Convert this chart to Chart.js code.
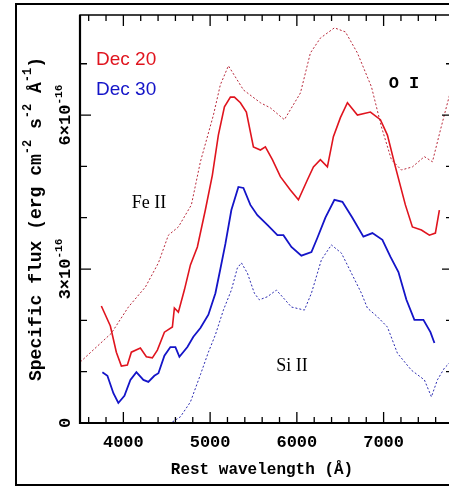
<!DOCTYPE html>
<html>
<head>
<meta charset="utf-8">
<script src="https://cdn.jsdelivr.net/npm/chart.js@4.4.1/dist/chart.umd.min.js"></script>
<style>
  html, body { margin: 0; padding: 0; background: #fff; overflow: hidden; }
  #wrap { width: 460px; height: 487px; }
</style>
</head>
<body>
<div id="wrap"><canvas id="spec" width="460" height="487"></canvas></div>
<script>
// flux in units of 1e-16 erg cm^-2 s^-2 A^-1, wavelength in A
const dec20Wave = [3746,3850,3919,3977,4046,4092,4196,4265,4334,4392,4473,4565,4588,4634,4703,4773,4853,4945,5026,5095,5165,5234,5280,5349,5418,5499,5580,5637,5718,5810,5925,6018,6122,6191,6271,6352,6421,6502,6583,6698,6848,6963,7044,7136,7251,7332,7436,7528,7597,7643];
const dec20Flux = [2.28,1.89,1.38,1.11,1.13,1.38,1.46,1.29,1.27,1.42,1.77,1.87,2.24,2.16,2.59,3.08,3.43,4.15,4.83,5.61,6.16,6.35,6.35,6.24,6.06,5.38,5.32,5.38,5.13,4.80,4.54,4.35,4.74,4.99,5.13,4.99,5.58,5.95,6.24,6.00,6.06,5.91,5.61,4.99,4.25,3.82,3.76,3.66,3.70,4.15];

const dec20DotWave = [3504,3862,4058,4254,4404,4519,4634,4784,4888,5038,5118,5211,5384,5580,5695,5856,6041,6156,6271,6433,6560,6698,6860,6975,7090,7205,7332,7470,7563,7655,7760];
const dec20DotFlux = [1.19,1.75,2.26,2.65,3.12,3.66,3.82,4.25,5.09,6.00,6.59,6.96,6.49,6.24,6.14,5.91,6.43,7.21,7.50,7.70,7.62,7.21,6.55,5.77,5.13,4.93,4.99,5.19,5.09,5.71,6.39];

const dec30Wave = [3758,3816,3885,3942,4012,4081,4150,4231,4288,4357,4404,4473,4542,4600,4646,4738,4807,4888,4980,5061,5118,5176,5245,5326,5384,5464,5545,5660,5776,5845,5937,6052,6168,6237,6329,6433,6525,6640,6767,6871,6986,7078,7171,7263,7355,7459,7540,7586];
const dec30Flux = [0.99,0.92,0.58,0.39,0.53,0.84,0.99,0.84,0.80,0.92,0.97,1.31,1.48,1.48,1.29,1.48,1.68,1.85,2.11,2.53,3.00,3.49,4.15,4.60,4.58,4.25,4.05,3.86,3.66,3.66,3.43,3.26,3.33,3.61,4.00,4.35,4.31,4.00,3.63,3.70,3.57,3.24,2.94,2.40,2.01,2.01,1.77,1.56];

const dec30DotWave = [4565,4657,4773,4888,4980,5061,5153,5245,5314,5361,5430,5510,5568,5660,5764,5833,5937,6087,6168,6283,6398,6514,6629,6744,6813,6929,7044,7159,7320,7470,7551,7620,7701,7760];
const dec30DotFlux = [0.02,0.12,0.41,0.94,1.38,1.72,2.20,2.59,3.02,3.12,2.92,2.53,2.40,2.46,2.59,2.46,2.26,2.20,2.53,3.18,3.47,3.31,2.92,2.53,2.24,2.07,1.87,1.36,1.03,0.84,0.51,0.84,1.07,1.17];

const xTickLabels = [4000, 5000, 6000, 7000];
const yTickValues = [0, 3, 6];
const yTickLabels = [[['0', false]], [['3×10', false], ['-16', true]], [['6×10', false], ['-16', true]]];

const redSolid = '#e0141e';
const redDot = '#b8283a';
const blueSolid = '#1414c8';
const blueDot = '#2a2ab0';

const toPoints = (xs, ys) => xs.map((x, i) => ({ x: x, y: ys[i] }));

// rich text with superscripts, centred on x
function drawRich(ctx, parts, x, y, size, family, weight) {
    const w = weight || 'normal';
    let total = 0;
    const widths = parts.map(p => {
        ctx.font = w + ' ' + (p[1] ? Math.round(size * 0.65) : size) + 'px ' + family;
        const m = ctx.measureText(p[0]).width;
        total += m;
        return m;
    });
    let cx = x - total / 2;
    ctx.textAlign = 'left';
    ctx.textBaseline = 'middle';
    parts.forEach((p, i) => {
        ctx.font = w + ' ' + (p[1] ? Math.round(size * 0.65) : size) + 'px ' + family;
        ctx.fillText(p[0], cx, p[1] ? y - size * 0.42 : y);
        cx += widths[i];
    });
}

const decor = {
    id: 'decor',
    afterDraw(chart) {
        const ctx = chart.ctx;
        const a = chart.chartArea;
        const xs = chart.scales.x;
        const ys = chart.scales.y;
        ctx.save();
        ctx.strokeStyle = '#000';
        ctx.fillStyle = '#000';

        // outer frame
        ctx.lineWidth = 2;
        ctx.strokeRect(16, 4, 470, 481);

        // axes box
        ctx.lineWidth = 1.5;
        ctx.strokeRect(a.left, a.top, a.right - a.left, a.bottom - a.top);
        ctx.lineWidth = 2.2;
        ctx.beginPath();
        ctx.moveTo(a.left, a.top); ctx.lineTo(a.left, a.bottom); ctx.lineTo(a.right, a.bottom);
        ctx.stroke();

        // inward ticks
        ctx.lineWidth = 1.3;
        ctx.beginPath();
        for (let v = 3600; v <= 7800; v += 200) {
            const px = xs.getPixelForValue(v);
            const len = v % 1000 === 0 ? 11 : 6;
            ctx.moveTo(px, a.bottom); ctx.lineTo(px, a.bottom - len);
            ctx.moveTo(px, a.top); ctx.lineTo(px, a.top + len);
        }
        for (let v = 1; v <= 7; v++) {
            const py = ys.getPixelForValue(v);
            const len = v % 3 === 0 ? 11 : 7;
            ctx.moveTo(a.left, py); ctx.lineTo(a.left + len, py);
            ctx.moveTo(a.right, py); ctx.lineTo(a.right - len, py);
        }
        ctx.stroke();

        // x tick labels + title
        const mono = '"Liberation Mono", "Courier New", monospace';
        ctx.textAlign = 'center';
        ctx.textBaseline = 'middle';
        ctx.font = 'bold 17px ' + mono;
        xTickLabels.forEach(v => ctx.fillText(String(v), xs.getPixelForValue(v), 443));
        ctx.font = 'bold 16px ' + mono;
        ctx.fillText('Rest wavelength (Å)', 262, 470);

        // y tick labels (rotated)
        yTickValues.forEach((v, i) => {
            ctx.save();
            ctx.translate(66, ys.getPixelForValue(v));
            ctx.rotate(-Math.PI / 2);
            drawRich(ctx, yTickLabels[i], 0, 0, 17, mono, 'bold');
            ctx.restore();
        });

        // y title
        ctx.save();
        ctx.translate(36, (a.top + a.bottom) / 2);
        ctx.rotate(-Math.PI / 2);
        drawRich(ctx, [['Specific flux (erg cm', false], ['-2', true], [' s', false], ['-2', true], [' Å', false], ['-1', true], [')', false]], 0, 0, 18, mono, 'bold');
        ctx.restore();

        // legend labels
        ctx.textAlign = 'left';
        ctx.font = '19px "Liberation Sans", Arial, sans-serif';
        ctx.fillStyle = redSolid;
        ctx.fillText('Dec 20', 96, 60);
        ctx.fillStyle = blueSolid;
        ctx.fillText('Dec 30', 96, 90);

        // line identifications
        ctx.fillStyle = '#000';
        ctx.textAlign = 'center';
        ctx.font = 'bold 17px ' + mono;
        ctx.fillText('O I', 404, 84);
        ctx.font = '18px "Liberation Serif", "Times New Roman", serif';
        ctx.fillText('Fe II', 149, 203);
        ctx.fillText('Si II', 292, 366);
        ctx.restore();
    }
};

new Chart(document.getElementById('spec'), {
    type: 'line',
    data: {
        datasets: [
            { label: 'Dec 20 (dotted)', data: toPoints(dec20DotWave, dec20DotFlux), borderColor: redDot, borderWidth: 1, borderDash: [2, 2] },
            { label: 'Dec 20', data: toPoints(dec20Wave, dec20Flux), borderColor: redSolid, borderWidth: 1.6 },
            { label: 'Dec 30', data: toPoints(dec30Wave, dec30Flux), borderColor: blueSolid, borderWidth: 1.8 },
            { label: 'Dec 30 (dotted)', data: toPoints(dec30DotWave, dec30DotFlux), borderColor: blueDot, borderWidth: 1, borderDash: [2, 2] }
        ]
    },
    options: {
        responsive: false,
        animation: false,
        devicePixelRatio: 1,
        clip: false,
        elements: { point: { radius: 0 }, line: { tension: 0, fill: false } },
        layout: { padding: { left: 80, top: 15, right: 7, bottom: 64 } },
        scales: {
            x: { type: 'linear', min: 3500, max: 7800, display: false },
            y: { type: 'linear', min: 0, max: 7.95, display: false }
        },
        plugins: { legend: { display: false }, tooltip: { enabled: false } }
    },
    plugins: [decor]
});
</script>
</body>
</html>
